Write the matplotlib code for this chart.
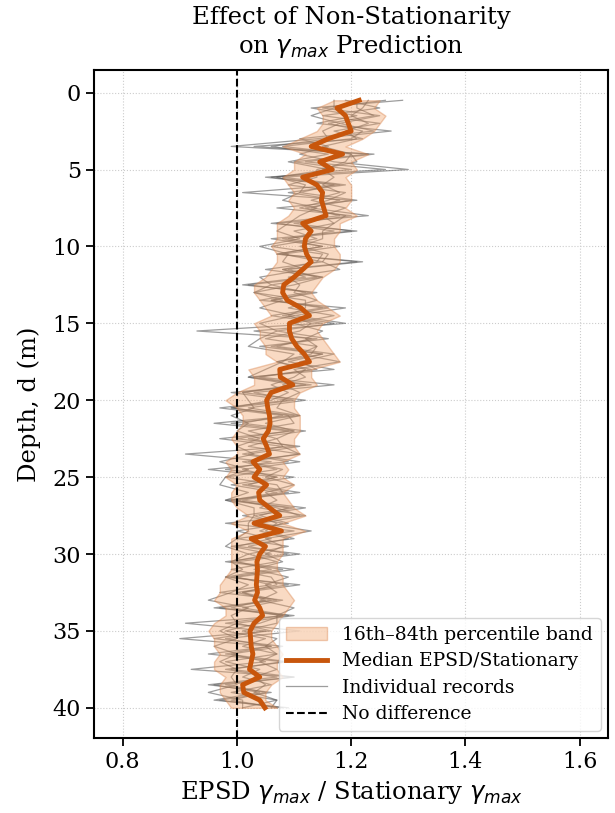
import numpy as np
import matplotlib
matplotlib.use("Agg")
import matplotlib.pyplot as plt

plt.rcParams['font.family'] = 'DejaVu Serif'
plt.rcParams['mathtext.fontset'] = 'dejavusans'

# depth grid (m)
depth = np.arange(0.5, 40.01, 0.5)

# median EPSD/stationary ratio
median = [1.214, 1.175, 1.19, 1.195, 1.20, 1.16, 1.13, 1.185, 1.145, 1.167,
          1.115, 1.14, 1.15, 1.148, 1.152, 1.156, 1.115, 1.13, 1.12, 1.118,
          1.122, 1.13, 1.115, 1.10, 1.082, 1.08, 1.088, 1.112, 1.127, 1.092,
          1.092, 1.096, 1.105, 1.118, 1.127, 1.075, 1.076, 1.098, 1.06, 1.052,
          1.054, 1.057, 1.058, 1.055, 1.046, 1.052, 1.057, 1.028, 1.04, 1.03,
          1.052, 1.038, 1.04, 1.057, 1.075, 1.03, 1.078, 1.025, 1.05, 1.04,
          1.035, 1.036, 1.035, 1.034, 1.036, 1.031, 1.04, 1.045, 1.03, 1.023,
          1.024, 1.025, 1.028, 1.025, 1.022, 1.04, 1.01, 1.012, 1.04, 1.049]

# 16th / 84th percentile band
p16 = [1.17, 1.14, 1.15, 1.15, 1.14, 1.11, 1.08, 1.12, 1.10, 1.10,
       1.08, 1.09, 1.10, 1.09, 1.10, 1.09, 1.07, 1.07, 1.07, 1.06,
       1.07, 1.07, 1.06, 1.05, 1.03, 1.03, 1.04, 1.05, 1.06, 1.03,
       1.04, 1.04, 1.05, 1.05, 1.07, 1.02, 1.03, 1.03, 1.00, 0.98,
       1.00, 1.01, 1.01, 1.00, 0.99, 1.00, 1.00, 0.98, 0.99, 0.98,
       1.00, 0.99, 0.99, 1.00, 1.02, 0.99, 1.02, 0.99, 0.99, 0.99,
       0.99, 0.99, 0.98, 0.97, 0.97, 0.96, 0.98, 0.98, 0.96, 0.95,
       0.96, 0.96, 0.97, 0.96, 0.96, 0.98, 0.97, 0.97, 0.98, 0.99]
p84 = [1.25, 1.24, 1.26, 1.25, 1.24, 1.22, 1.19, 1.23, 1.20, 1.21,
       1.19, 1.20, 1.20, 1.20, 1.19, 1.21, 1.18, 1.18, 1.17, 1.17,
       1.18, 1.18, 1.17, 1.15, 1.14, 1.13, 1.14, 1.16, 1.18, 1.15,
       1.14, 1.15, 1.16, 1.17, 1.18, 1.13, 1.13, 1.14, 1.11, 1.10,
       1.10, 1.11, 1.11, 1.11, 1.10, 1.10, 1.11, 1.08, 1.09, 1.08,
       1.10, 1.08, 1.09, 1.10, 1.12, 1.08, 1.12, 1.08, 1.08, 1.08,
       1.07, 1.07, 1.08, 1.08, 1.09, 1.10, 1.09, 1.08, 1.07, 1.06,
       1.06, 1.07, 1.08, 1.07, 1.07, 1.08, 1.06, 1.05, 1.05, 1.07]

# individual records
rec_a = [1.26, 1.15, 1.25, 1.18, 1.24, 1.11, 1.16, 1.11, 1.17, 1.30,
         1.08, 1.19, 1.09, 1.18, 1.13, 1.23, 1.07, 1.17, 1.09, 1.18,
         1.08, 1.15, 1.05, 1.15, 1.06, 1.12, 1.04, 1.19, 1.10, 1.19,
         1.03, 1.13, 1.07, 1.17, 1.11, 1.14, 1.03, 1.13, 0.99, 1.09,
         0.97, 1.08, 1.01, 1.12, 1.02, 1.10, 0.91, 1.06, 0.98, 1.10,
         1.01, 1.09, 1.01, 1.12, 1.03, 1.07, 1.05, 1.10, 0.99, 1.06,
         0.99, 1.10, 1.00, 1.06, 0.97, 1.08, 1.01, 1.09, 0.91, 1.05,
         0.96, 1.08, 0.99, 1.05, 0.92, 1.10, 0.98, 1.05, 0.99, 1.07]
rec_b = [1.19, 1.25, 1.15, 1.25, 1.17, 1.22, 1.03, 1.23, 1.10, 1.20,
         1.06, 1.18, 1.01, 1.20, 1.12, 1.18, 1.06, 1.21, 1.08, 1.15,
         1.07, 1.22, 1.09, 1.14, 1.02, 1.13, 1.06, 1.15, 1.06, 1.15,
         0.93, 1.14, 1.06, 1.15, 1.07, 1.13, 1.04, 1.17, 1.03, 1.10,
         0.99, 1.10, 0.96, 1.09, 1.00, 1.11, 1.02, 1.11, 1.01, 1.07,
         0.99, 1.07, 0.99, 1.10, 1.01, 1.08, 1.04, 1.09, 1.02, 1.09,
         0.98, 1.08, 0.99, 1.09, 1.00, 1.06, 0.96, 1.10, 1.00, 1.06,
         0.90, 1.06, 0.98, 1.09, 0.98, 1.07, 0.95, 1.06, 0.97, 1.08]
rec_c = [1.23, 1.22, 1.20, 1.23, 1.19, 1.21, 1.15, 1.20, 1.19, 1.15,
         1.17, 1.15, 1.18, 1.13, 1.19, 1.15, 1.17, 1.15, 1.15, 1.11,
         1.16, 1.15, 1.18, 1.09, 1.11, 1.10, 1.14, 1.09, 1.17, 1.10,
         1.15, 1.12, 1.14, 1.11, 1.18, 1.10, 1.12, 1.08, 1.11, 1.08,
         1.07, 1.11, 1.05, 1.10, 1.07, 1.08, 1.11, 1.02, 1.08, 1.05,
         1.10, 1.05, 1.07, 1.04, 1.12, 1.04, 1.13, 1.05, 1.08, 1.05,
         1.08, 1.03, 1.09, 1.05, 1.07, 1.04, 1.10, 1.07, 1.07, 1.01,
         1.07, 1.05, 1.07, 1.04, 1.07, 1.03, 1.05, 1.03, 1.07, 1.06]
rec_d = [1.17, 1.17, 1.13, 1.18, 1.15, 1.16, 1.06, 1.16, 1.09, 1.16,
         1.07, 1.12, 1.11, 1.08, 1.14, 1.11, 1.09, 1.07, 1.11, 1.04,
         1.09, 1.08, 1.12, 1.04, 1.06, 1.03, 1.08, 1.04, 1.10, 1.04,
         1.07, 1.04, 1.02, 1.10, 1.08, 1.05, 1.02, 1.10, 1.01, 1.02,
         1.03, 0.99, 1.02, 1.00, 1.04, 1.00, 1.03, 0.97, 1.02, 0.98,
         0.97, 1.02, 0.98, 1.03, 1.03, 1.02, 1.02, 1.00, 0.98, 1.02,
         0.99, 1.01, 0.98, 1.02, 0.99, 0.95, 1.02, 0.99, 1.00, 0.97,
         1.00, 0.96, 1.00, 0.97, 1.00, 0.99, 1.00, 0.95, 1.01, 1.01]
rec_e = [1.29, 1.13, 1.21, 1.14, 1.27, 1.14, 0.99, 1.24, 1.12, 1.26,
         1.05, 1.17, 1.11, 1.21, 1.07, 1.20, 1.10, 1.20, 1.06, 1.15,
         1.07, 1.21, 1.08, 1.12, 1.01, 1.14, 1.06, 1.16, 1.08, 1.17,
         1.07, 1.16, 1.04, 1.15, 1.09, 1.17, 1.02, 1.12, 1.01, 1.12,
         1.02, 1.11, 0.99, 1.10, 0.97, 1.08, 1.01, 1.09, 0.95, 1.07,
         1.02, 1.11, 0.98, 1.09, 1.04, 1.09, 1.00, 1.06, 1.00, 1.11,
         1.00, 1.06, 0.98, 1.11, 1.01, 1.07, 0.97, 1.08, 0.98, 1.11,
         0.98, 1.06, 0.95, 1.08, 0.99, 1.10, 0.96, 1.04, 0.96, 1.09]
rec_f = [1.21, 1.21, 1.24, 1.16, 1.22, 1.20, 1.08, 1.20, 1.21, 1.14,
         1.14, 1.09, 1.19, 1.16, 1.11, 1.19, 1.17, 1.10, 1.14, 1.06,
         1.15, 1.14, 1.08, 1.15, 1.10, 1.03, 1.12, 1.12, 1.09, 1.13,
         1.11, 1.05, 1.14, 1.13, 1.07, 1.12, 1.10, 1.06, 1.09, 1.06,
         0.99, 1.09, 1.10, 1.02, 1.07, 1.02, 1.11, 1.01, 1.07, 0.98,
         1.07, 1.08, 1.00, 1.07, 1.11, 0.98, 1.10, 1.00, 1.09, 1.02,
         1.07, 0.99, 1.06, 1.07, 1.01, 1.05, 0.99, 1.08, 1.04, 0.98,
         1.05, 1.01, 1.07, 0.98, 1.04, 1.01, 1.06, 0.99, 1.07, 1.01]
records = [rec_a, rec_b, rec_c, rec_d, rec_e, rec_f]

fig, ax = plt.subplots(figsize=(6.15, 8.13), dpi=100)
fig.subplots_adjust(left=0.153, right=0.989, top=0.914, bottom=0.092)

for i, r in enumerate(records):
    ax.plot(r, depth, color='#4d4d4d', lw=0.9, alpha=0.55,
            label='Individual records' if i == 0 else None, zorder=2)
ax.fill_betweenx(depth, p16, p84, facecolor='#f0a36a', edgecolor='#d9824a',
                 alpha=0.4, lw=1.0, label='16th\u201384th percentile band', zorder=3)
ax.plot(median, depth, color='#c8560c', lw=3.5, label='Median EPSD/Stationary', zorder=4)
ax.axvline(1.0, color='black', ls='--', lw=1.5, label='No difference', zorder=5)

ax.set_xlim(0.75, 1.65)
ax.invert_yaxis()
ax.set_xticks([0.8, 1.0, 1.2, 1.4, 1.6])
ax.set_yticks(range(0, 41, 5))
ax.grid(True, ls=':', color='#cccccc', lw=0.8)
ax.tick_params(labelsize=16, width=1.3, length=6)
for s in ax.spines.values():
    s.set_linewidth(1.5)

ax.set_xlabel(r'EPSD $\gamma_{max}$ / Stationary $\gamma_{max}$', fontsize=17.5)
ax.set_ylabel('Depth, d (m)', fontsize=17.5, labelpad=8)
ax.set_title('Effect of Non-Stationarity\non $\\gamma_{max}$ Prediction',
             fontsize=17.5, pad=12)

h, l = ax.get_legend_handles_labels()
order = [l.index('16th\u201384th percentile band'), l.index('Median EPSD/Stationary'),
         l.index('Individual records'), l.index('No difference')]
ax.legend([h[i] for i in order], [l[i] for i in order], loc='lower right',
          fontsize=13.5, handlelength=2.2, borderaxespad=0.4, labelspacing=0.45)

fig.savefig('out.png', dpi=100)
